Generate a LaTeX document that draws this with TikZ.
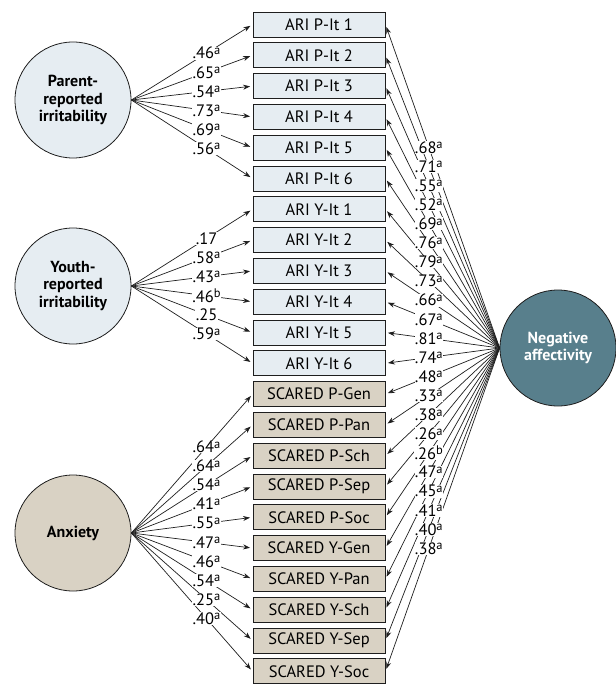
\documentclass[tikz,border=0pt]{standalone}
\usepackage{fontspec}
\setmainfont{PT Sans}
\usetikzlibrary{arrows.meta}
\definecolor{lblue}{RGB}{230,237,242}
\definecolor{tanc}{RGB}{217,210,196}
\definecolor{tealc}{RGB}{88,127,140}
\definecolor{lnc}{RGB}{30,30,30}
\newcommand\supx[1]{\raisebox{0.55ex}{\fontsize{12.5}{12.5}\selectfont #1}}
\newcommand\la[1]{.#1\supx{a}}
\newcommand\lb[1]{.#1\supx{b}}
\begin{document}
\begin{tikzpicture}[x=1pt,y=-1pt,
 box/.style={draw=lnc, line width=0.9pt, minimum width=132pt, minimum height=25pt, inner sep=0pt, font=\fontsize{16.5}{17}\selectfont},
 ari/.style={box, fill=lblue},
 scared/.style={box, fill=tanc},
 lat/.style={circle, draw=lnc, line width=0.8pt, minimum size=116pt, inner sep=0pt, align=center, font=\bfseries\fontsize{16}{17.7}\selectfont},
 arr/.style={-{Stealth[length=7pt,width=5pt]}, line width=0.7pt, draw=lnc, shorten >=2.5pt},
 lab/.style={fill=white, inner sep=0.4pt, font=\fontsize{16.5}{16.5}\selectfont, pos=0.62}]
\useasboundingbox (0,0) rectangle (615,684);
% boxes
\foreach \t [count=\i] in {ARI P-It 1,ARI P-It 2,ARI P-It 3,ARI P-It 4,ARI P-It 5,ARI P-It 6,ARI Y-It 1,ARI Y-It 2,ARI Y-It 3,ARI Y-It 4,ARI Y-It 5,ARI Y-It 6}
  \node[ari] (b\i) at (319,{24.5+30.8*(\i-1)}) {\t};
\foreach \t [count=\i from 13] in {SCARED P-Gen,SCARED P-Pan,SCARED P-Sch,SCARED P-Sep,SCARED P-Soc,SCARED Y-Gen,SCARED Y-Pan,SCARED Y-Sch,SCARED Y-Sep,SCARED Y-Soc}
  \node[scared] (b\i) at (319,{24.5+30.8*(\i-1)}) {\t};
% latent variables
\node[lat, fill=lblue] (par) at (73,100) {Parent-\\reported\\irritability};
\node[lat, fill=lblue] (you) at (73,286) {Youth-\\reported\\irritability};
\node[lat, fill=tanc] (anx) at (73,533) {Anxiety};
\node[lat, fill=tealc, text=white] (neg) at (558,348) {Negative\\affectivity};
% connectors
\foreach \i in {1,...,6} \draw[arr] (par.east) -- (b\i.west);
\foreach \i in {7,...,12} \draw[arr] (you.east) -- (b\i.west);
\foreach \i in {13,...,22} \draw[arr] (anx.east) -- (b\i.west);
\foreach \i in {1,...,22} \draw[arr] (neg.west) -- (b\i.east);
% loadings
\foreach \t [count=\i] in {\la{46},\la{65},\la{54},\la{73},\la{69},\la{56}}
  \path (par.east) -- node[lab]{\t} (b\i.west);
\foreach \t [count=\i from 7] in {.17,\la{58},\la{43},\lb{46},.25,\la{59}}
  \path (you.east) -- node[lab]{\t} (b\i.west);
\foreach \t [count=\i from 13] in {\la{64},\la{64},\la{54},\la{41},\la{55},\la{47},\la{46},\la{54},\la{25},\la{40}}
  \path (anx.east) -- node[lab]{\t} (b\i.west);
\foreach \t [count=\i] in {\la{68},\la{71},\la{55},\la{52},\la{69},\la{76},\la{79},\la{73},\la{66},\la{67},\la{81},\la{74},\la{48},\la{33},\la{38},\la{26},\lb{26},\la{47},\la{45},\la{41},\la{40},\la{38}}
  \path (neg.west) -- node[lab]{\t} (b\i.east);
\end{tikzpicture}
\end{document}
